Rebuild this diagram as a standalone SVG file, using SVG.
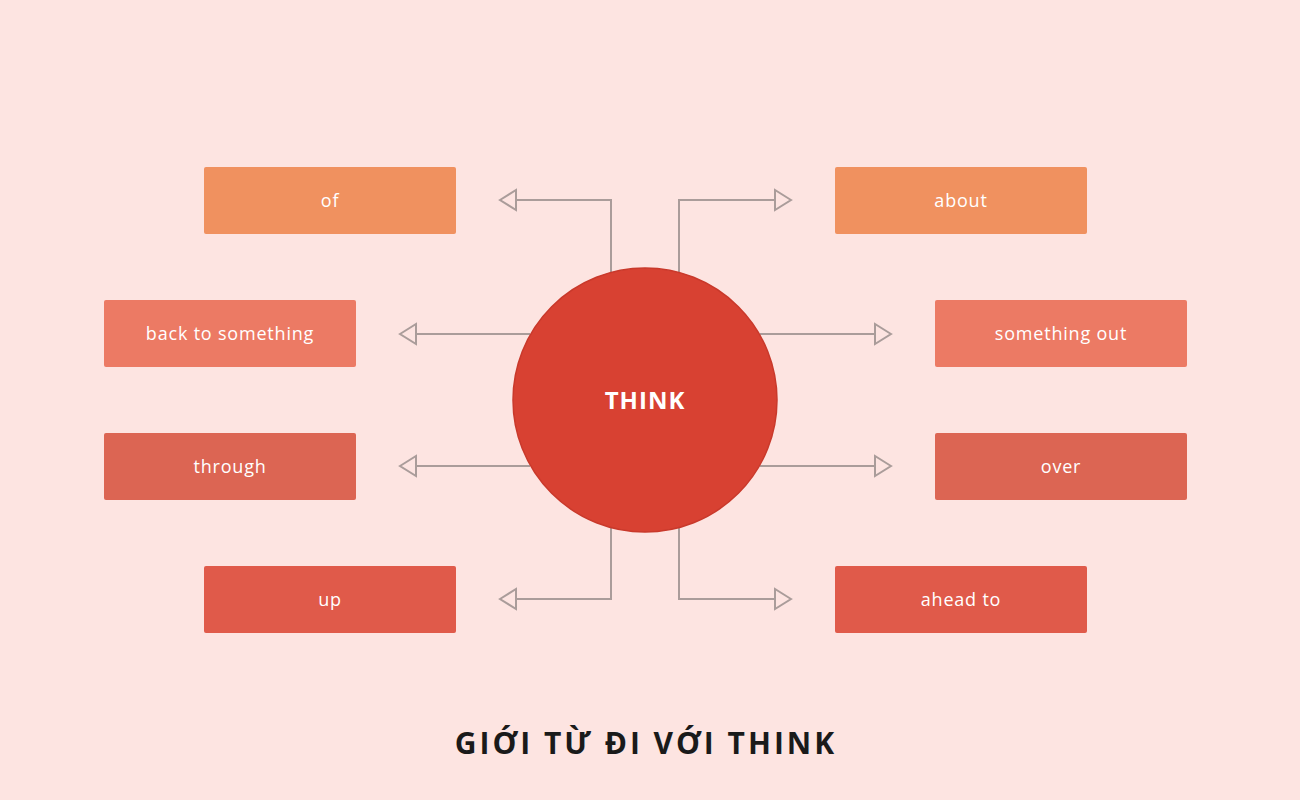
<svg xmlns="http://www.w3.org/2000/svg" width="1300" height="800" viewBox="0 0 1300 800">
<style>
.t{font-family:"Open Sans","Liberation Sans",sans-serif;font-size:18px;fill:#fff;text-anchor:middle;letter-spacing:0.8px}
.c{fill:none;stroke:#aa9c9a;stroke-width:2}
.a{fill:#fde4e1;stroke:#aa9c9a;stroke-width:2}
</style>
<rect width="1300" height="800" fill="#fde4e1"/>
<g id="connectors">
<polyline class="c" points="611,272 611,200 516,200"/><polygon class="a" points="500,200 516,190 516,210"/>
<polyline class="c" points="679,272 679,200 775,200"/><polygon class="a" points="791,200 775,190 775,210"/>
<line class="c" x1="530" y1="334" x2="416" y2="334"/><polygon class="a" points="400,334 416,324 416,344"/>
<line class="c" x1="760" y1="334" x2="875" y2="334"/><polygon class="a" points="891,334 875,324 875,344"/>
<line class="c" x1="530" y1="466" x2="416" y2="466"/><polygon class="a" points="400,466 416,456 416,476"/>
<line class="c" x1="760" y1="466" x2="875" y2="466"/><polygon class="a" points="891,466 875,456 875,476"/>
<polyline class="c" points="611,528 611,599 516,599"/><polygon class="a" points="500,599 516,589 516,609"/>
<polyline class="c" points="679,528 679,599 775,599"/><polygon class="a" points="791,599 775,589 775,609"/>
</g>
<g id="think"><circle cx="645" cy="400" r="132" fill="#d84132" stroke="#c9392b" stroke-width="1.5"/>
<text x="645" y="409" font-family="'Open Sans','Liberation Sans',sans-serif" font-size="24" font-weight="bold" fill="#fff" text-anchor="middle" letter-spacing="1">THINK</text></g>
<g id="of"><rect x="204" y="167" width="252" height="67" rx="2" fill="#f0915f"/><text class="t" x="330" y="207">of</text></g>
<g id="about"><rect x="835" y="167" width="252" height="67" rx="2" fill="#f0915f"/><text class="t" x="961" y="207">about</text></g>
<g id="back"><rect x="104" y="300" width="252" height="67" rx="2" fill="#ec7a64"/><text class="t" x="230" y="340">back to something</text></g>
<g id="out"><rect x="935" y="300" width="252" height="67" rx="2" fill="#ec7a64"/><text class="t" x="1061" y="340">something out</text></g>
<g id="through"><rect x="104" y="433" width="252" height="67" rx="2" fill="#dc6553"/><text class="t" x="230" y="473">through</text></g>
<g id="over"><rect x="935" y="433" width="252" height="67" rx="2" fill="#dc6553"/><text class="t" x="1061" y="473">over</text></g>
<g id="up"><rect x="204" y="566" width="252" height="67" rx="2" fill="#e05a4a"/><text class="t" x="330" y="606">up</text></g>
<g id="ahead"><rect x="835" y="566" width="252" height="67" rx="2" fill="#e05a4a"/><text class="t" x="961" y="606">ahead to</text></g>
<text x="646" y="754" font-family="'Open Sans','Liberation Sans',sans-serif" font-size="30" font-weight="bold" fill="#1a1a1a" text-anchor="middle" letter-spacing="3">GIỚI TỪ ĐI VỚI THINK</text>
</svg>
